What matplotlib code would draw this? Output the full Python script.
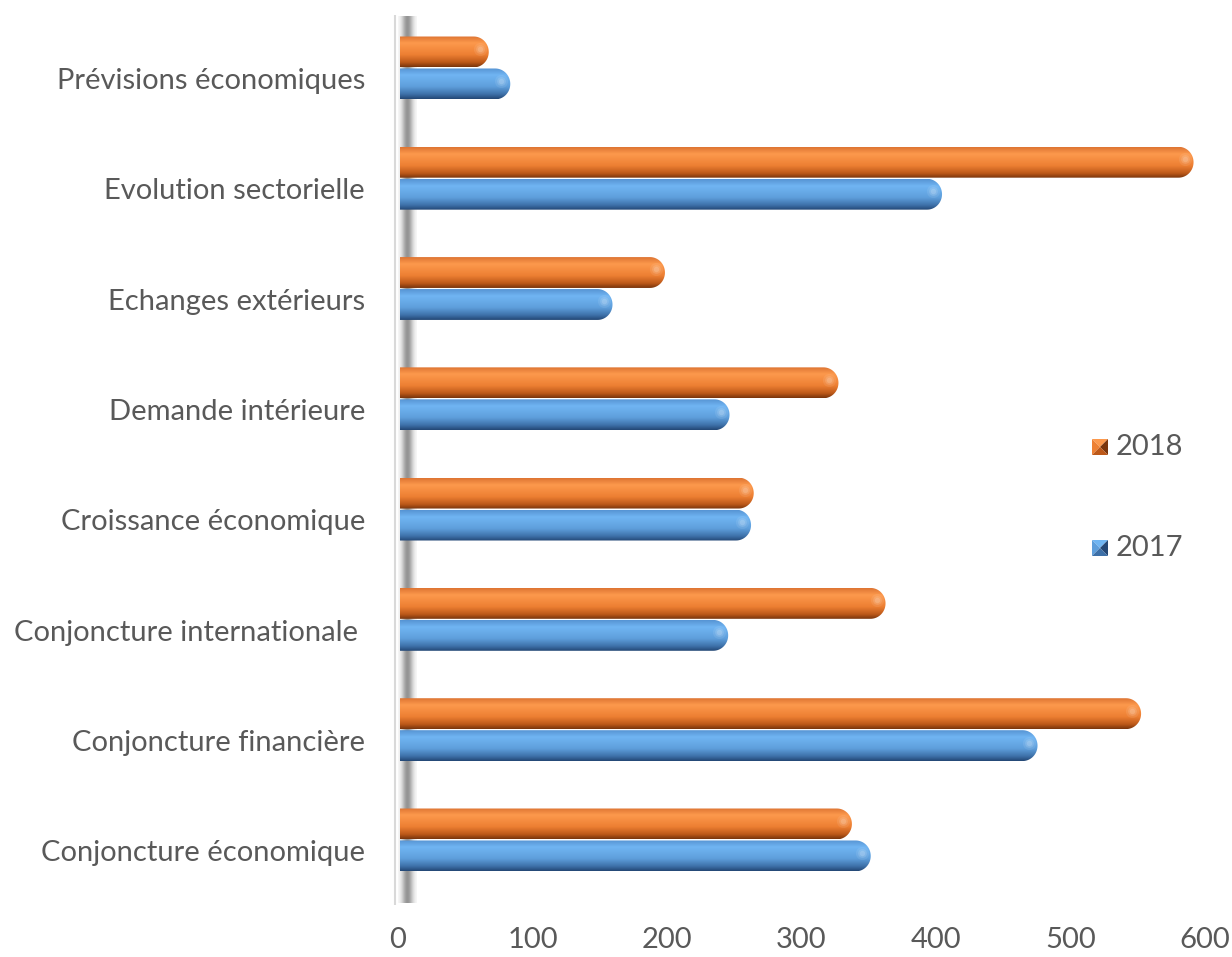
import numpy as np
import matplotlib.pyplot as plt
from matplotlib.patches import Polygon

categories = ["Conjoncture économique", "Conjoncture financière", "Conjoncture internationale ",
              "Croissance économique", "Demande intérieure", "Echanges extérieurs",
              "Evolution sectorielle", "Prévisions économiques"]
v2017 = [350, 474, 244, 261, 245, 158, 403, 82]
v2018 = [336, 551, 361, 263, 326, 197, 590, 66]
series = ["2017", "2018"]
xticks = [0, 100, 200, 300, 400, 500, 600]

plt.rcParams['font.family'] = ['Lato', 'DejaVu Sans']
txt = '#595959'
fs = 21

# colour stops for the cylinder shading (top -> bottom)
stops = np.array([0, .22, .6, .85, 1.])
orange = np.array([[.87, .46, .2], [.99, .6, .3], [.93, .5, .2], [.74, .35, .1], [.48, .21, .05]])
blue = np.array([[.34, .58, .83], [.44, .71, .95], [.37, .62, .86], [.24, .44, .66], [.14, .28, .46]])

def shade(cols, n=60):
    t = np.linspace(0, 1, n)
    return np.stack([np.interp(t, stops, cols[:, k]) for k in range(3)], axis=1)[:, None, :]

fig = plt.figure(figsize=(12.32, 9.57), dpi=100)
ax = fig.add_axes([390/1232, 52/957, 825/1232, 890/957])
sx = 1.345  # px per unit
x0 = -10/sx
ax.set_xlim(x0, x0 + 825/sx)
ax.set_ylim(-0.59, 7.48)
ax.axis('off')

# wall: thin line + blurred shadow
ax.plot([-5.4/sx, -5.4/sx], [-0.59, 7.48], color='#d9d9d9', lw=1.5, zorder=1)
w = np.linspace(-1, 1, 80)
img = np.zeros((1, 80, 4))
img[0, :, :3] = 0.35
img[0, :, 3] = np.exp(-(w/0.6)**2)*0.65
ax.imshow(img, extent=(-2/sx, 17/sx, -0.57, 7.47), aspect='auto', zorder=2, interpolation='bicubic')

rx = 15/sx
h = 0.28

def cyl(v, yc, cols):
    ry = h/2
    th = np.linspace(-np.pi/2, np.pi/2, 40)
    pts = [(0, yc - ry)] + [(v - rx + rx*np.cos(a_), yc + ry*np.sin(a_)) for a_ in th] + [(0, yc + ry)]
    poly = Polygon(pts, closed=True, facecolor='none', edgecolor='none')
    ax.add_patch(poly)
    im = ax.imshow(shade(cols), extent=(0, v, yc - ry, yc + ry), aspect='auto',
                   zorder=3, interpolation='bilinear')
    im.set_clip_path(poly)
    # soft highlight on the cap
    for s, al in [(90, 0.08), (40, 0.12), (15, 0.15)]:
        ax.scatter([v - rx*0.6], [yc + ry*0.2], s=s, color='white', alpha=al,
                   zorder=4, linewidths=0)

y = np.arange(len(categories))
for i in range(len(categories)):
    cyl(v2018[i], y[i] + 0.145, orange)
    cyl(v2017[i], y[i] - 0.145, blue)

# category labels
for i, c in enumerate(categories):
    ax.text(x0 - 25/sx, y[i] - 0.12, c, ha='right', va='center', fontsize=fs, color=txt)
# x tick labels
for t in xticks:
    ax.text(t - 2/sx, -0.59 - 35/110, str(t), ha='center', va='center', fontsize=fs, color=txt)

# legend
def leg_marker(cx, cy, cols):
    s = 16
    X = lambda p: p/1232
    Y = lambda p: 1 - p/957
    l, r, t_, b = cx - s/2, cx + s/2, cy - s/2, cy + s/2
    faces = [([(l, t_), (r, t_), (cx, cy)], cols[1]),
             ([(l, t_), (l, b), (cx, cy)], cols[2]),
             ([(r, t_), (r, b), (cx, cy)], cols[4]),
             ([(l, b), (r, b), (cx, cy)], cols[3])]
    for pts, c in faces:
        fig.add_artist(Polygon([(X(p[0]), Y(p[1])) for p in pts], closed=True,
                               facecolor=c, edgecolor='none', transform=fig.transFigure))

leg_marker(1100, 447, orange)
fig.text(1116/1232, 1 - 447/957, series[1], ha='left', va='center', fontsize=fs, color=txt)
leg_marker(1100, 548, blue)
fig.text(1116/1232, 1 - 548/957, series[0], ha='left', va='center', fontsize=fs, color=txt)

fig.savefig('out.png', dpi=100)
